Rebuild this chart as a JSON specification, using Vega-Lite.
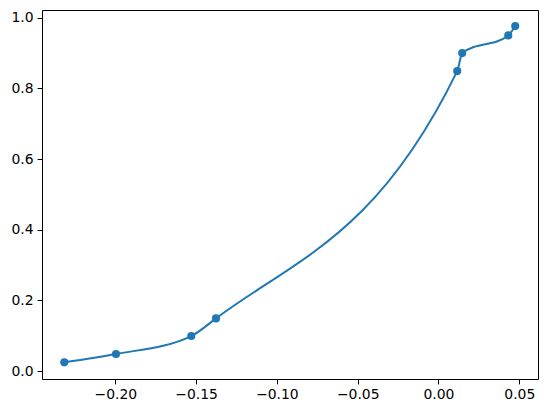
{
  "$schema": "https://vega.github.io/schema/vega-lite/v6.json",
  "width": 496,
  "height": 369,
  "autosize": {"type": "none"},
  "padding": {"left": 42, "top": 10, "right": 9, "bottom": 34},
  "background": "white",
  "config": {
    "view": {"stroke": "black", "strokeWidth": 1},
    "axis": {
      "grid": false,
      "domain": false,
      "tickColor": "black",
      "tickSize": 4.9,
      "tickWidth": 1,
      "labelColor": "black",
      "labelFont": "DejaVu Sans",
      "labelFontSize": 13.9,
      "labelPadding": 4,
      "title": null
    }
  },
  "data": {
    "values": [
      {"x": -0.2316, "y": 0.0246},
      {"x": -0.1996, "y": 0.048},
      {"x": -0.153, "y": 0.099},
      {"x": -0.1377, "y": 0.149},
      {"x": 0.0116, "y": 0.849},
      {"x": 0.0147, "y": 0.9},
      {"x": 0.0432, "y": 0.95},
      {"x": 0.0475, "y": 0.9765}
    ]
  },
  "encoding": {
    "x": {
      "field": "x",
      "type": "quantitative",
      "scale": {"domain": [-0.2454, 0.0616], "nice": false, "zero": false},
      "axis": {"values": [-0.2, -0.15, -0.1, -0.05, 0, 0.05], "format": ".2f"}
    },
    "y": {
      "field": "y",
      "type": "quantitative",
      "scale": {"domain": [-0.0226, 1.022], "nice": false, "zero": false},
      "axis": {"values": [0, 0.2, 0.4, 0.6, 0.8, 1.0], "format": ".1f"}
    }
  },
  "layer": [
    {"mark": {"type": "line", "interpolate": "monotone", "color": "#1f77b4", "strokeWidth": 2}},
    {"mark": {"type": "point", "filled": true, "opacity": 1, "size": 66, "color": "#1f77b4"}}
  ]
}
